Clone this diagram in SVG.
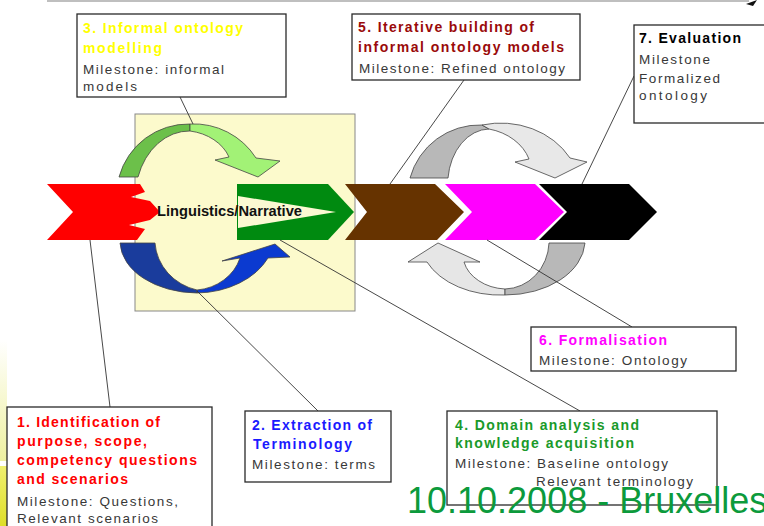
<svg xmlns="http://www.w3.org/2000/svg" width="764" height="526" viewBox="0 0 764 526">
<defs>
<style>
.box{fill:#fff;stroke:#2a2a2a;stroke-width:1.3}
.t{font-family:"Liberation Sans",Arial,sans-serif;font-size:14px;font-weight:bold}
.m{font-family:"Liberation Sans",Arial,sans-serif;font-size:13.5px;fill:#383838}
.arc{stroke:#444;stroke-width:0.8}
.con{stroke:#333;stroke-width:0.9;fill:none}
</style>
<linearGradient id="bandTop" x1="0" y1="0" x2="0" y2="1">
<stop offset="0" stop-color="#ffffff"/>
<stop offset="1" stop-color="#eef0a0"/>
</linearGradient>
<linearGradient id="bandBot" x1="0" y1="0" x2="0" y2="1">
<stop offset="0" stop-color="#f0f070"/>
<stop offset="1" stop-color="#dede28"/>
</linearGradient>
</defs>
<rect width="764" height="526" fill="#fff"/>
<g id="decor">
<line x1="47" y1="1" x2="749" y2="1" stroke="#aaa" stroke-width="1.5"/>
<polygon points="746,4 757,0 753,6" fill="#111"/>
<rect x="0" y="340" width="7" height="121" fill="url(#bandTop)"/>
<rect x="0" y="466" width="7" height="60" fill="url(#bandBot)"/>
</g>
<g id="linguistics-area">
<rect x="135" y="114" width="220" height="197" fill="#fcfacc" stroke="#888" stroke-width="1"/>
</g>
<g id="green-cycle">
<path class="arc" fill="#6cc04a" d="M190,124 A72,72 0 0 0 119,177 L138,177 A54,67 0 0 1 190,131 Z"/>
<path class="arc" fill="#a2f276" d="M190,124 A74,74 0 0 1 256,158 L280,161 L258,177 L215,160 L229,157 A50,40 0 0 0 190,131 Z"/>
</g>
<g id="blue-cycle">
<path class="arc" fill="#1a3c9c" d="M120,243 L155,243 A55,52 0 0 0 197,290 L197,293 A78,52 0 0 1 120,243 Z"/>
<path class="arc" fill="#0b3ad0" d="M197,293 A80,60 0 0 0 268,258 L290,257 L275,244 L222,261 L240,258 A50,45 0 0 1 197,290 Z"/>
</g>
<g id="gray-cycle-top">
<path class="arc" fill="#b8b8b8" d="M482,125 A72,72 0 0 0 410,178 L448,178 A42,55 0 0 1 489,129 Z"/>
<path class="arc" fill="#e8e8e8" d="M482,125 A80,70 0 0 1 570,158 L587,162 L555,178 L515,162 L529,159 A55,45 0 0 0 489,129 Z"/>
</g>
<g id="gray-cycle-bottom">
<path class="arc" fill="#e6e6e6" d="M408,262 L438,243 L480,262 L464,262 A45,35 0 0 0 505,289 L505,295 A80,55 0 0 1 427,262 Z"/>
<path class="arc" fill="#b8b8b8" d="M505,295 A80,55 0 0 0 585,243 L549,243 A45,48 0 0 1 505,289 Z"/>
</g>
<g id="chevrons">
<polygon id="step1" fill="#ff0000" points="47,184 140,184 145,192 131,197 150,201 160,212 150,220 129,225 145,229 137,240 47,240 73,212"/>
<polygon id="step3" fill="#008a10" points="237,184 328,184 354,212 328,240 237,240"/>
<polygon fill="#fbf9d2" points="238,196 336,212 238,228"/>
<polygon id="step5" fill="#663300" points="345,184 435,184 464,212 437,240 345,240 367,212"/>
<polygon id="step6" fill="#ff00ff" points="445,184 535,184 564,212 535,240 445,240 472,212"/>
<polygon id="step7" fill="#000000" points="539,184 629,184 657,212 629,240 539,240 567,212"/>
<text x="157" y="216" font-family="'Liberation Sans',Arial,sans-serif" font-size="14" font-weight="bold" fill="#111" textLength="145" lengthAdjust="spacingAndGlyphs">Linguistics/Narrative</text>
</g>
<g id="connectors">
<line class="con" x1="180" y1="97" x2="193" y2="124"/>
<line class="con" x1="90" y1="240" x2="110" y2="407"/>
<line class="con" x1="197" y1="291" x2="318" y2="411"/>
<line class="con" x1="280" y1="240" x2="580" y2="411"/>
<line class="con" x1="487" y1="240" x2="632" y2="327"/>
<line class="con" x1="464" y1="80" x2="390" y2="184"/>
<line class="con" x1="634" y1="76" x2="582" y2="184"/>
</g>
<g id="box3">
<rect class="box" x="77" y="14" width="209" height="83"/>
<text class="t" fill="#ffff00" x="83" y="33" textLength="160" lengthAdjust="spacing">3. Informal ontology</text>
<text class="t" fill="#ffff00" x="83" y="53" textLength="79" lengthAdjust="spacing">modelling</text>
<text class="m" x="83" y="74" textLength="141" lengthAdjust="spacing">Milestone: informal</text>
<text class="m" x="83" y="91" textLength="54" lengthAdjust="spacing">models</text>
</g>
<g id="box5">
<rect class="box" x="352" y="14" width="228" height="66"/>
<text class="t" fill="#9a0a0a" x="358" y="32" textLength="176" lengthAdjust="spacing">5. Iterative building of</text>
<text class="t" fill="#9a0a0a" x="358" y="52" textLength="206" lengthAdjust="spacing">informal ontology models</text>
<text class="m" x="359" y="73" textLength="206" lengthAdjust="spacing">Milestone: Refined ontology</text>
</g>
<g id="box7">
<rect class="box" x="634" y="25" width="140" height="98"/>
<text class="t" fill="#000" x="639" y="43" textLength="102" lengthAdjust="spacing">7. Evaluation</text>
<text class="m" x="639" y="64" textLength="71" lengthAdjust="spacing">Milestone</text>
<text class="m" x="639" y="83" textLength="81" lengthAdjust="spacing">Formalized</text>
<text class="m" x="639" y="100" textLength="68" lengthAdjust="spacing">ontology</text>
</g>
<g id="box6">
<rect class="box" x="531" y="327" width="205" height="44"/>
<text class="t" fill="#ff00ff" x="539" y="345" textLength="128" lengthAdjust="spacing">6. Formalisation</text>
<text class="m" x="539" y="365" textLength="148" lengthAdjust="spacing">Milestone: Ontology</text>
</g>
<g id="box1">
<rect class="box" x="7" y="407" width="205" height="125"/>
<text class="t" fill="#ff0000" x="17" y="427" textLength="143" lengthAdjust="spacing">1. Identification of</text>
<text class="t" fill="#ff0000" x="17" y="446" textLength="130" lengthAdjust="spacing">purpose, scope,</text>
<text class="t" fill="#ff0000" x="17" y="465" textLength="180" lengthAdjust="spacing">competency questions</text>
<text class="t" fill="#ff0000" x="17" y="484" textLength="111" lengthAdjust="spacing">and scenarios</text>
<text class="m" x="17" y="506" textLength="161" lengthAdjust="spacing">Milestone: Questions,</text>
<text class="m" x="17" y="523" textLength="141" lengthAdjust="spacing">Relevant scenarios</text>
</g>
<g id="box2">
<rect class="box" x="245" y="411" width="146" height="71"/>
<text class="t" fill="#1a1aff" x="252" y="430" textLength="120" lengthAdjust="spacing">2. Extraction of</text>
<text class="t" fill="#1a1aff" x="253" y="449" textLength="99" lengthAdjust="spacing">Terminology</text>
<text class="m" x="252" y="469" textLength="123" lengthAdjust="spacing">Milestone: terms</text>
</g>
<g id="box4">
<rect class="box" x="447" y="411" width="270" height="94"/>
<text class="t" fill="#1a9a2a" x="455" y="430" textLength="184" lengthAdjust="spacing">4. Domain analysis and</text>
<text class="t" fill="#1a9a2a" x="455" y="448" textLength="179" lengthAdjust="spacing">knowledge acquisition</text>
<text class="m" x="455" y="468" textLength="213" lengthAdjust="spacing">Milestone: Baseline ontology</text>
<text class="m" x="536" y="486" textLength="157" lengthAdjust="spacing">Relevant terminology</text>
</g>
<g id="footer">
<text x="407" y="513" font-family="'Liberation Sans',Arial,sans-serif" font-size="36" fill="#0c9a3c">10.10.2008 - Bruxelles</text>
</g>
</svg>
